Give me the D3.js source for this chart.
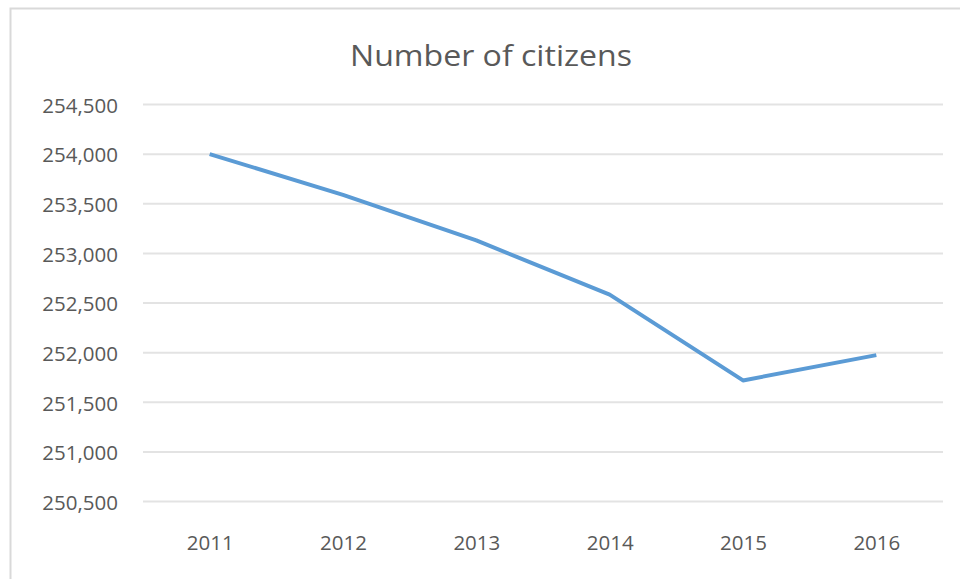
<!DOCTYPE html>
<html>
<head>
<meta charset="utf-8">
<script src="https://cdn.jsdelivr.net/npm/d3@7"></script>
<style>
html,body{margin:0;padding:0;background:#fff;}
svg{display:block;}
text{font-family:"Open Sans",sans-serif;fill:#595959;}
</style>
</head>
<body>
<svg id="chart" width="960" height="579"></svg>
<script>
const title = "Number of citizens";
const years = ["2011","2012","2013","2014","2015","2016"];
const citizens = [254000, 253590, 253130, 252585, 251720, 251975];
const yTicks = [250500, 251000, 251500, 252000, 252500, 253000, 253500, 254000, 254500];

const svg = d3.select("#chart");
const W = 960, H = 579;
const plot = {left: 143, right: 943, top: 104.5, bottom: 501.5};

// chart frame
svg.append("rect").attr("x", 10.5).attr("y", 8.5).attr("width", W + 20).attr("height", H + 20)
  .attr("fill", "#fff").attr("stroke", "#d9d9d9").attr("stroke-width", 2);

const x = d3.scalePoint().domain(years).range([plot.left, plot.right]).padding(0.5);
const y = d3.scaleLinear().domain([250500, 254500]).range([plot.bottom, plot.top]);

// gridlines
svg.append("g").selectAll("line").data(yTicks).join("line")
  .attr("x1", plot.left).attr("x2", plot.right)
  .attr("y1", d => y(d)).attr("y2", d => y(d))
  .attr("stroke", "#e3e3e3").attr("stroke-width", 2);

// y axis labels
const fmt = d3.format(",");
const yAxis = d3.axisLeft(y).tickValues(yTicks).tickFormat(fmt).tickSize(0).tickPadding(0);
const gy = svg.append("g").attr("transform", `translate(118,0)`).call(yAxis);
gy.select(".domain").remove();
gy.selectAll("text").attr("font-family", '"Open Sans",sans-serif').attr("font-size", 20.5)
  .attr("fill", "#555555").attr("dy", "0.38em");

// x axis labels
const xAxis = d3.axisBottom(x).tickSize(0).tickPadding(0);
const gx = svg.append("g").attr("transform", `translate(0,535)`).call(xAxis);
gx.select(".domain").remove();
gx.selectAll("text").attr("font-family", '"Open Sans",sans-serif').attr("font-size", 20.5)
  .attr("fill", "#555555").attr("dy", "0.71em");

// line
const line = d3.line().x((d, i) => x(years[i])).y(d => y(d));
svg.append("path").datum(citizens).attr("d", line)
  .attr("fill", "none").attr("stroke", "#5b9bd5").attr("stroke-width", 4)
  .attr("stroke-linejoin", "round").attr("stroke-linecap", "butt");

// title
svg.append("text").attr("x", 491).attr("y", 66).attr("text-anchor", "middle")
  .attr("font-size", 30).attr("fill", "#555555")
  .attr("textLength", 282).attr("lengthAdjust", "spacingAndGlyphs")
  .text(title);
</script>
</body>
</html>
